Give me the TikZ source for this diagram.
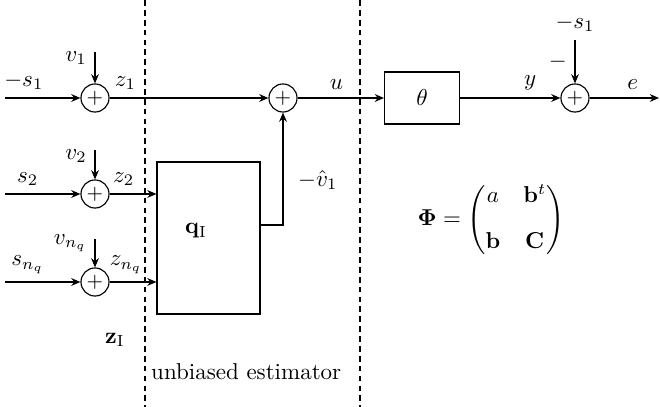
\documentclass[tikz,border=0pt]{standalone}
\usepackage{amsmath, amssymb}
\usepackage{tikz}
\usetikzlibrary{arrows.meta}

\begin{document}
\begin{tikzpicture}[x=0.435pt, y=-0.435pt, >={Stealth[length=4pt, width=3.4pt]}, line width=0.5pt,
  sum/.style={draw, circle, minimum size=12.2pt, inner sep=0pt, font=\small},
  block/.style={draw, minimum width=32.6pt, minimum height=22.6pt},
  boundary/.style={dash pattern=on 2.5pt off 1.8pt}]
  \useasboundingbox (0,0) rectangle (660,407);

  % boundaries of the estimator
  \coordinate (bndAtop) at (145,0);   \coordinate (bndAbot) at (145,407);
  \coordinate (bndBtop) at (360,0);   \coordinate (bndBbot) at (360,407);
  \draw[boundary] (bndAtop) -- (bndAbot);
  \draw[boundary] (bndBtop) -- (bndBbot);

  % noisy inputs
  \node[sum] (sum1) at (95,98) {$+$};
  \node[sum] (sum2) at (95,194) {$+$};
  \node[sum] (sumn) at (95,282) {$+$};
  \coordinate (in1) at (5,98);   \coordinate (v1) at (95,52);
  \coordinate (in2) at (5,194);  \coordinate (v2) at (95,150);
  \coordinate (inn) at (5,282);  \coordinate (vn) at (95,239);

  % estimator and plant
  \node[draw, minimum width=44.8pt, minimum height=66.1pt] (q) at (208.5,238) {};
  \node (qlab) at (196,231) {$\mathbf{q}_{\mathrm{I}}$};
  \coordinate (qout) at (260,225);
  \node[sum] (sumu) at (283,98) {$+$};
  \node[block] (theta) at (422,98) {$\theta$};
  \node[sum] (sume) at (575,98) {$+$};
  \coordinate (ref) at (575,40);
  \coordinate (out) at (659,98);

  \draw[->] (in1) -- node[above, pos=0.25] {$-s_1$} (sum1);
  \draw[->] (v1) -- node[left, pos=0.2] {$v_1$} (sum1);
  \draw[->] (in2) -- node[above, pos=0.3] {$s_2$} (sum2);
  \draw[->] (v2) -- node[left, pos=0.2] {$v_2$} (sum2);
  \draw[->] (inn) -- node[above, pos=0.3] {$s_{n_q}$} (sumn);
  \draw[->] (vn) -- node[left, pos=0.15] {$v_{n_q}$} (sumn);

  \draw[->] (sum1) -- node[above, pos=0.1] {$z_1$} (sumu);
  \draw[->] (sum2) -- node[above, pos=0.3] {$z_2$} (q.west |- sum2);
  \draw[->] (sumn) -- node[above, pos=0.35] {$z_{n_q}$} (q.west |- sumn);
  \draw[->] (qout) -| node[right=3pt, pos=0.7] {$-\hat{v}_1$} (sumu);

  \draw[->] (sumu) -- node[above, pos=0.45] {$u$} (theta);
  \draw[->] (theta) -- node[above, pos=0.7] {$y$} (sume);
  \draw[->] (ref) -- node[left, pos=0.5] {$-$} (sume);
  \node[above] (reflab) at (ref) {$-s_1$};
  \draw[->] (sume) -- node[above, pos=0.62] {$e$} (out);

  \node (zI) at (115,340) {$\mathbf{z}_{\mathrm{I}}$};
  \node[anchor=west] (est) at (143,372) {unbiased estimator};
  \node (phi) at (491,220) {$\boldsymbol{\Phi} = \begin{pmatrix} a & \mathbf{b}^t \\[8pt] \mathbf{b} & \mathbf{C} \end{pmatrix}$};
\end{tikzpicture}
\end{document}
